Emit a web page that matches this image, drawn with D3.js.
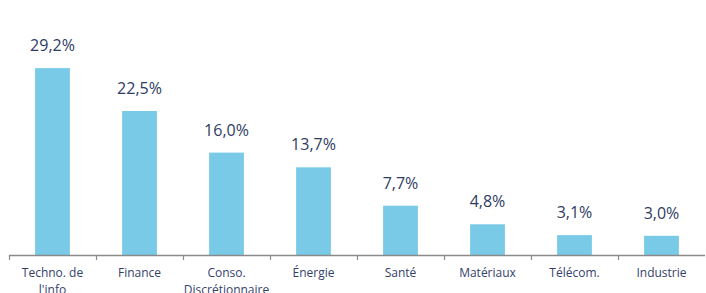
<!DOCTYPE html>
<html>
<head>
<meta charset="utf-8">
<script src="https://d3js.org/d3.v7.min.js"></script>
<style>
  body { margin: 0; background: #fff; }
  text { font-family: "Open Sans", sans-serif; }
</style>
</head>
<body>
<svg width="706" height="293"></svg>
<script>
const sectors = ["Techno. de l'info", "Finance", "Conso. Discrétionnaire", "Énergie", "Santé", "Matériaux", "Télécom.", "Industrie"];
const sectorLines = [["Techno. de", "l'info"], ["Finance"], ["Conso.", "Discrétionnaire"], ["Énergie"], ["Santé"], ["Matériaux"], ["Télécom."], ["Industrie"]];
const weights = [29.2, 22.5, 16.0, 13.7, 7.7, 4.8, 3.1, 3.0];

const svg = d3.select("svg");
const baseY = 255;

const x = d3.scaleBand().domain(sectors).range([9, 705]).paddingInner(0.6).paddingOuter(0.3);
const y = d3.scaleLinear().domain([0, 30]).range([baseY, baseY - 192]);

// bars
svg.selectAll("rect.bar")
  .data(weights)
  .join("rect")
  .attr("class", "bar")
  .attr("x", (d, i) => x(sectors[i]))
  .attr("y", d => y(d))
  .attr("width", x.bandwidth())
  .attr("height", d => baseY - y(d))
  .attr("fill", "#78cae6");

// value labels
svg.selectAll("text.val")
  .data(weights)
  .join("text")
  .attr("class", "val")
  .attr("x", (d, i) => x(sectors[i]) + x.bandwidth() / 2)
  .attr("y", d => y(d) - 17)
  .attr("text-anchor", "middle")
  .style("font-size", "16px")
  .attr("fill", "#2e3b63")
  .text(d => d.toFixed(1).replace(".", ",") + "%");

// axis
const step = x.step();
const axis = svg.append("g");
axis.append("line")
  .attr("x1", 9).attr("x2", 705)
  .attr("y1", baseY + 0.5).attr("y2", baseY + 0.5)
  .attr("stroke", "#8a8a8a").attr("stroke-width", 1.5);
d3.range(sectors.length).forEach(i => {
  const tx = Math.round(9 + i * step) + 0.5;
  axis.append("line")
    .attr("x1", tx).attr("x2", tx)
    .attr("y1", baseY).attr("y2", baseY + 5)
    .attr("stroke", "#8a8a8a").attr("stroke-width", 1.2);
});

// category labels
sectorLines.forEach((lines, i) => {
  const t = svg.append("text")
    .attr("x", x(sectors[i]) + x.bandwidth() / 2)
    .attr("y", 277)
    .attr("text-anchor", "middle")
    .style("font-size", "12px")
    .attr("fill", "#34416a");
  lines.forEach((l, j) => {
    t.append("tspan")
      .attr("x", x(sectors[i]) + x.bandwidth() / 2)
      .attr("dy", j === 0 ? 0 : 17)
      .text(l);
  });
});
</script>
</body>
</html>
